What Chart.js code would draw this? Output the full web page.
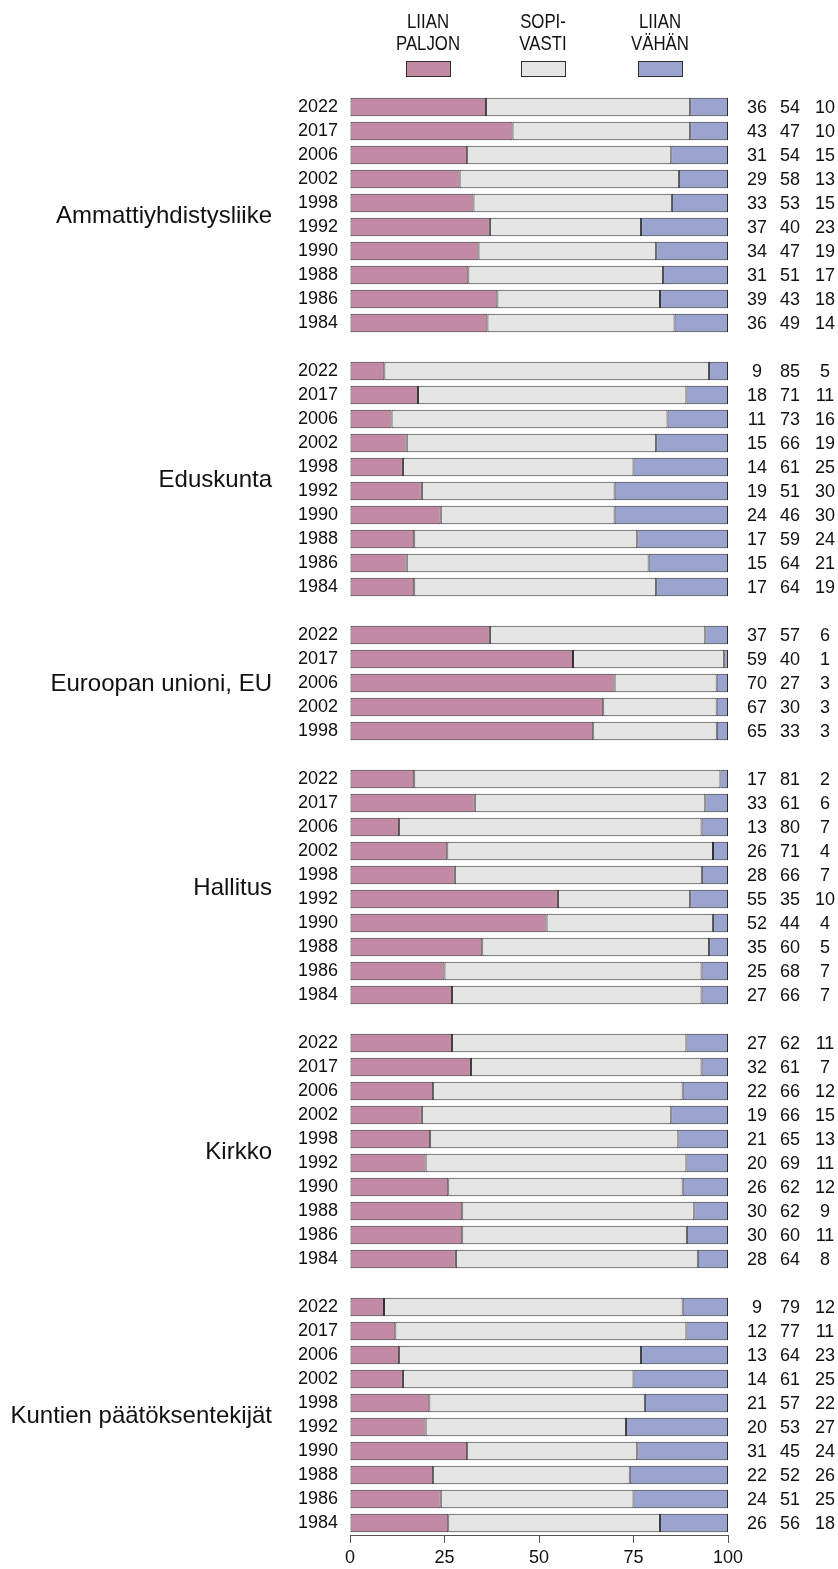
<!DOCTYPE html>
<html>
<head>
<meta charset="utf-8">
<script src="https://cdn.jsdelivr.net/npm/chart.js@4/dist/chart.umd.min.js"></script>
<style>
	html, body { margin: 0; padding: 0; background: #fff; }
	#wrap { width: 838px; height: 1569px; }
</style>
</head>
<body>
<div id="wrap"><canvas id="graph" width="838" height="1569"></canvas></div>
<script>
// ryhmät ja vuodet
const ryhmat = ["Ammattiyhdistysliike", "Eduskunta", "Euroopan unioni, EU", "Hallitus", "Kirkko", "Kuntien päätöksentekijät"];
const vuodetKaikki = [2022, 2017, 2006, 2002, 1998, 1992, 1990, 1988, 1986, 1984];
const vuodetEU = [2022, 2017, 2006, 2002, 1998];
const vuodet = [vuodetKaikki, vuodetKaikki, vuodetEU, vuodetKaikki, vuodetKaikki, vuodetKaikki];

// prosentit (ryhmittäin, vuodet yllä olevassa järjestyksessä)
const liianPaljon = [
	[36, 43, 31, 29, 33, 37, 34, 31, 39, 36],
	[9, 18, 11, 15, 14, 19, 24, 17, 15, 17],
	[37, 59, 70, 67, 65],
	[17, 33, 13, 26, 28, 55, 52, 35, 25, 27],
	[27, 32, 22, 19, 21, 20, 26, 30, 30, 28],
	[9, 12, 13, 14, 21, 20, 31, 22, 24, 26],
];
const sopivasti = [
	[54, 47, 54, 58, 53, 40, 47, 51, 43, 49],
	[85, 71, 73, 66, 61, 51, 46, 59, 64, 64],
	[57, 40, 27, 30, 33],
	[81, 61, 80, 71, 66, 35, 44, 60, 68, 66],
	[62, 61, 66, 66, 65, 69, 62, 62, 60, 64],
	[79, 77, 64, 61, 57, 53, 45, 52, 51, 56],
];
const liianVahan = [
	[10, 10, 15, 13, 15, 23, 19, 17, 18, 14],
	[5, 11, 16, 19, 25, 30, 30, 24, 21, 19],
	[6, 1, 3, 3, 3],
	[2, 6, 7, 4, 7, 10, 4, 5, 7, 7],
	[11, 7, 12, 15, 13, 11, 12, 9, 11, 8],
	[12, 11, 23, 25, 22, 27, 24, 26, 25, 18],
];
const sarjat = ["LIIAN\nPALJON", "SOPI-\nVASTI", "LIIAN\nVÄHÄN"];
const xTicks = [0, 25, 50, 75, 100];

const varit = ["#c28aa5", "#e5e5e5", "#9ba3cf"];
const reuna = "#2e2e2e";
const fontti = "'Liberation Sans', Arial, sans-serif";

window.addEventListener("load", () => {
	// rivit: ryhmien väliin tyhjä rivi
	const labels = [];
	const rivit = [];
	vuodet.forEach((vv, g) => {
		if (g > 0) {
			labels.push("");
			rivit.push(null);
		}
		vv.forEach((v, i) => {
			labels.push(String(v));
			rivit.push([liianPaljon[g][i], sopivasti[g][i], liianVahan[g][i]]);
		});
	});

	// palkit venytetään 100 %:iin (pyöristetyt luvut eivät aina summaudu sataan)
	const osuus = (k) => rivit.map((r) => (r ? (r[k] / (r[0] + r[1] + r[2])) * 100 : null));

	const tekstit = {
		id: "tekstit",
		afterDraw(chart) {
			const ctx = chart.ctx;
			const y = chart.scales.y;
			const a = chart.chartArea;
			ctx.save();
			ctx.fillStyle = "#111";

			// ryhmien nimet
			ctx.font = "24px " + fontti;
			ctx.textAlign = "right";
			ctx.textBaseline = "middle";
			let i = 0;
			ryhmat.forEach((nimi, g) => {
				const n = vuodet[g].length;
				const yc = (y.getPixelForValue(i) + y.getPixelForValue(i + n - 1)) / 2;
				ctx.fillText(nimi, a.left - 78, yc + 1);
				i += n + 1;
			});

			// luvut oikealla
			ctx.font = "18px " + fontti;
			ctx.textAlign = "center";
			const sarakkeet = [a.right + 29, a.right + 62, a.right + 97];
			rivit.forEach((r, k) => {
				if (!r) return;
				const yy = y.getPixelForValue(k) + 1;
				r.forEach((val, j) => ctx.fillText(String(val), sarakkeet[j], yy));
			});

			// selite (kapea kirjasin)
			const keskit = [a.left + 78, a.left + 193, a.left + 310];
			ctx.font = "20px " + fontti;
			ctx.textBaseline = "alphabetic";
			sarjat.forEach((s, j) => {
				const rivi = s.split("\n");
				ctx.fillStyle = "#111";
				ctx.save();
				ctx.translate(keskit[j], 0);
				ctx.scale(0.84, 1);
				ctx.fillText(rivi[0], 0, 28);
				ctx.fillText(rivi[1], 0, 50);
				ctx.restore();
				ctx.fillStyle = varit[j];
				ctx.fillRect(keskit[j] - 22, 61, 44, 15);
				ctx.strokeStyle = reuna;
				ctx.lineWidth = 1;
				ctx.strokeRect(keskit[j] - 22 + 0.5, 61.5, 44, 15);
			});
			ctx.restore();
		},
	};

	const canva = document.querySelector("#graph");
	new Chart(canva, {
		type: "bar",
		data: {
			labels: labels,
			datasets: sarjat.map((s, k) => ({
				label: s.replace("\n", " "),
				data: osuus(k),
				backgroundColor: varit[k],
				borderColor: reuna,
				borderWidth: 1,
				borderSkipped: false,
				barPercentage: 0.78,
				categoryPercentage: 1,
			})),
		},
		options: {
			indexAxis: "y",
			responsive: false,
			animation: false,
			layout: { padding: { top: 95, right: 110, left: 0, bottom: 0 } },
			plugins: {
				legend: { display: false },
				tooltip: { enabled: false },
			},
			scales: {
				x: {
					stacked: true,
					min: 0,
					max: 100,
					afterBuildTicks: (scale) => {
						scale.ticks = xTicks.map((v) => ({ value: v }));
					},
					afterFit: (scale) => {
						scale.height = 34;
					},
					grid: { drawOnChartArea: false, drawTicks: true, tickLength: 8, color: "#555" },
					border: { display: true, color: "#555", width: 1 },
					ticks: { font: { size: 18, family: fontti }, color: "#111", padding: 4, maxRotation: 0 },
				},
				y: {
					stacked: true,
					afterFit: (scale) => {
						scale.width = 350;
					},
					grid: { display: false, drawTicks: false },
					border: { display: false },
					ticks: { font: { size: 18, family: fontti }, color: "#111", padding: 12, autoSkip: false },
				},
			},
		},
		plugins: [tekstit],
	});
});
</script>
</body>
</html>
